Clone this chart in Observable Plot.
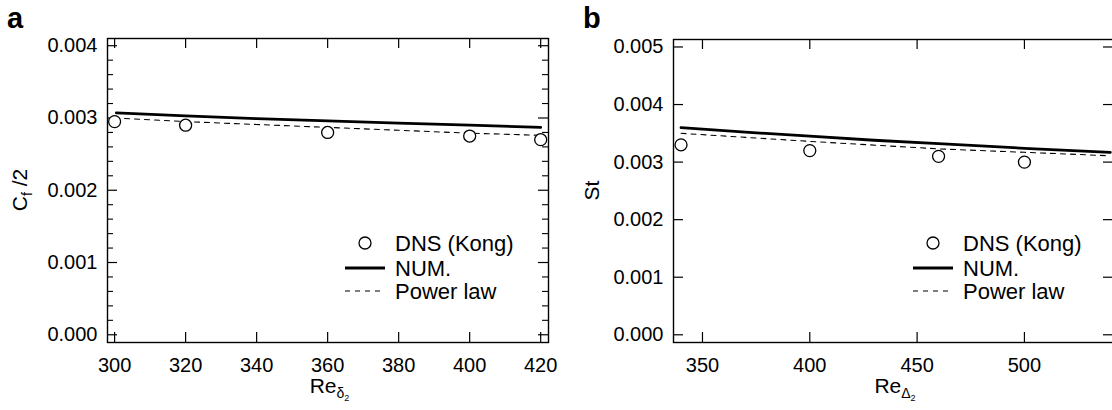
<!DOCTYPE html>
<html>
<head>
<meta charset="utf-8">
<script src="https://cdn.jsdelivr.net/npm/d3@7"></script>
<script src="https://cdn.jsdelivr.net/npm/@observablehq/plot@0.6"></script>
<style>
  html, body { margin: 0; padding: 0; background: #fff; overflow: hidden; }
  #wrap { position: relative; width: 1112px; height: 410px; overflow: hidden; }
  #wrap svg { position: absolute; top: 0; }
</style>
</head>
<body>
<div id="wrap"></div>
<script>
// ---------- Panel a data ----------
const aXTicks = [300, 320, 340, 360, 380, 400, 420];
const aYTicks = [0, 0.001, 0.002, 0.003, 0.004];
const aYMinor = [0.0002, 0.0004, 0.0006, 0.0008, 0.0012, 0.0014, 0.0016, 0.0018,
                 0.0022, 0.0024, 0.0026, 0.0028, 0.0032, 0.0034, 0.0036, 0.0038];
const aDnsX = [300, 320, 360, 400, 420];
const aDnsY = [0.00295, 0.0029, 0.0028, 0.00275, 0.0027];
const aNumX = [300.5, 320, 340, 360, 380, 400, 420];
const aNumY = [0.00307, 0.00303, 0.00299, 0.00296, 0.00293, 0.00290, 0.00287];
const aPowX = [300, 320, 340, 360, 380, 400, 420];
const aPowY = [0.00300, 0.00295, 0.00291, 0.00287, 0.00283, 0.00279, 0.00276];

// ---------- Panel b data ----------
const bXTicks = [350, 400, 450, 500];
const bYTicks = [0, 0.001, 0.002, 0.003, 0.004, 0.005];
const bDnsX = [340, 400, 460, 500];
const bDnsY = [0.0033, 0.0032, 0.0031, 0.0030];
const bNumX = [340, 370, 400, 430, 460, 500, 540];
const bNumY = [0.00360, 0.00352, 0.00345, 0.00338, 0.00332, 0.00324, 0.00317];
const bPowX = [340, 400, 460, 500, 540];
const bPowY = [0.00350, 0.00336, 0.00323, 0.00317, 0.00311];

const legendLabels = ["DNS (Kong)", "NUM.", "Power law"];

const FONT = "'Liberation Sans', Arial, Helvetica, sans-serif";
const fmt3 = d3.format(".3f");

function panel(cfg) {
  const innerW = cfg.width - cfg.ml - cfg.mr;
  const innerH = cfg.height - cfg.mt - cfg.mb;
  const dns = cfg.dnsX.map((x, i) => ({x, y: cfg.dnsY[i]}));
  const num = cfg.numX.map((x, i) => ({x, y: cfg.numY[i]}));
  const pow = cfg.powX.map((x, i) => ({x, y: cfg.powY[i]}));
  const marks = [
    Plot.frame({stroke: "black", strokeWidth: 1.4}),
    // inward major ticks: bottom, top, left, right
    Plot.tickX(cfg.xTicks, {x: d => d, insetTop: innerH - 10, stroke: "black", strokeWidth: 1.2}),
    Plot.tickX(cfg.xTicks, {x: d => d, insetBottom: innerH - 10, stroke: "black", strokeWidth: 1.2}),
    Plot.tickY(cfg.yTicks, {y: d => d, insetRight: innerW - 10, stroke: "black", strokeWidth: 1.2}),
    Plot.tickY(cfg.yTicks, {y: d => d, insetLeft: innerW - 10, stroke: "black", strokeWidth: 1.2}),
  ];
  if (cfg.yMinor) {
    marks.push(
      Plot.tickY(cfg.yMinor, {y: d => d, insetRight: innerW - 6, stroke: "black", strokeWidth: 1.1}),
      Plot.tickY(cfg.yMinor, {y: d => d, insetLeft: innerW - 6, stroke: "black", strokeWidth: 1.1})
    );
  }
  marks.push(
    Plot.axisX(cfg.xTicks, {tickSize: 0, tickPadding: 15, fontSize: 20, label: null}),
    Plot.axisY(cfg.yTicks, {tickSize: 0, tickPadding: 10, fontSize: 20, tickFormat: fmt3, label: null}),
    Plot.line(pow, {x: "x", y: "y", stroke: "black", strokeWidth: 1.1, strokeDasharray: "5,5"}),
    Plot.line(num, {x: "x", y: "y", stroke: "black", strokeWidth: 2.8}),
    Plot.dot(dns, {x: "x", y: "y", r: 6, stroke: "black", fill: "white", strokeWidth: 1.3})
  );
  const svg = Plot.plot({
    width: cfg.width, height: cfg.height,
    marginLeft: cfg.ml, marginRight: cfg.mr, marginTop: cfg.mt, marginBottom: cfg.mb,
    x: {domain: cfg.xDomain},
    y: {domain: cfg.yDomain},
    style: {fontFamily: FONT, color: "black", background: "transparent", overflow: "visible"},
    marks
  });
  svg.style.left = cfg.left + "px";
  const s = d3.select(svg);
  // panel letter
  s.append("text").attr("x", cfg.letterX).attr("y", 28)
    .attr("font-family", FONT).attr("font-weight", "bold").attr("font-size", 29)
    .attr("text-anchor", "start").attr("fill", "black").text(cfg.letter);
  // x title
  const xt = s.append("text").attr("x", cfg.ml + innerW / 2 + 2).attr("y", 393)
    .attr("font-family", FONT).attr("font-size", 21).attr("fill", "black")
    .attr("text-anchor", "middle");
  xt.append("tspan").text("Re");
  xt.append("tspan").attr("font-size", 14).attr("dy", 5).text(cfg.xSub);
  xt.append("tspan").attr("font-size", 9).attr("dy", 3).text("2");
  // y title
  const yt = s.append("text")
    .attr("transform", `translate(${cfg.yTitleX},${cfg.mt + innerH / 2})rotate(-90)`)
    .attr("font-family", FONT).attr("font-size", 21).attr("fill", "black")
    .attr("text-anchor", "middle");
  cfg.yTitle(yt);
  // legend
  const lg = s.append("g").attr("font-family", FONT).attr("font-size", 22)
    .attr("fill", "black").attr("text-anchor", "start");
  const lx = cfg.legX, ly = cfg.legY;
  lg.append("circle").attr("cx", lx + 20).attr("cy", ly).attr("r", 6)
    .attr("fill", "white").attr("stroke", "black").attr("stroke-width", 1.3);
  lg.append("line").attr("x1", lx).attr("x2", lx + 40).attr("y1", ly + 25).attr("y2", ly + 25)
    .attr("stroke", "black").attr("stroke-width", 2.8);
  lg.append("line").attr("x1", lx).attr("x2", lx + 40).attr("y1", ly + 48).attr("y2", ly + 48)
    .attr("stroke", "black").attr("stroke-width", 1.1).attr("stroke-dasharray", "5,5");
  legendLabels.forEach((t, i) => {
    lg.append("text").attr("x", lx + 50).attr("y", ly + [0, 25, 48][i]).attr("dy", "0.36em").text(t);
  });
  return svg;
}

const wrap = document.getElementById("wrap");

wrap.appendChild(panel({
  left: 0, width: 556, height: 410, ml: 107, mr: 8, mt: 38, mb: 68,
  xDomain: [298, 422.2], yDomain: [-0.000107, 0.0041],
  xTicks: aXTicks, yTicks: aYTicks, yMinor: aYMinor,
  dnsX: aDnsX, dnsY: aDnsY, numX: aNumX, numY: aNumY, powX: aPowX, powY: aPowY,
  letter: "a", letterX: 7, xSub: "δ", yTitleX: 27,
  yTitle: t => {
    t.append("tspan").text("C");
    t.append("tspan").attr("font-size", 14).attr("dy", 5).text("f");
    t.append("tspan").attr("dy", -5).text(" /2");
  },
  legX: 345, legY: 243
}));

wrap.appendChild(panel({
  left: 556, width: 557, height: 410, ml: 117, mr: 0, mt: 39, mb: 68,
  xDomain: [336.5, 541.5], yDomain: [-0.000134, 0.00513],
  xTicks: bXTicks, yTicks: bYTicks, yMinor: null,
  dnsX: bDnsX, dnsY: bDnsY, numX: bNumX, numY: bNumY, powX: bPowX, powY: bPowY,
  letter: "b", letterX: 27, xSub: "Δ", yTitleX: 43,
  yTitle: t => { t.append("tspan").text("St"); },
  legX: 357, legY: 243
}));
</script>
</body>
</html>
